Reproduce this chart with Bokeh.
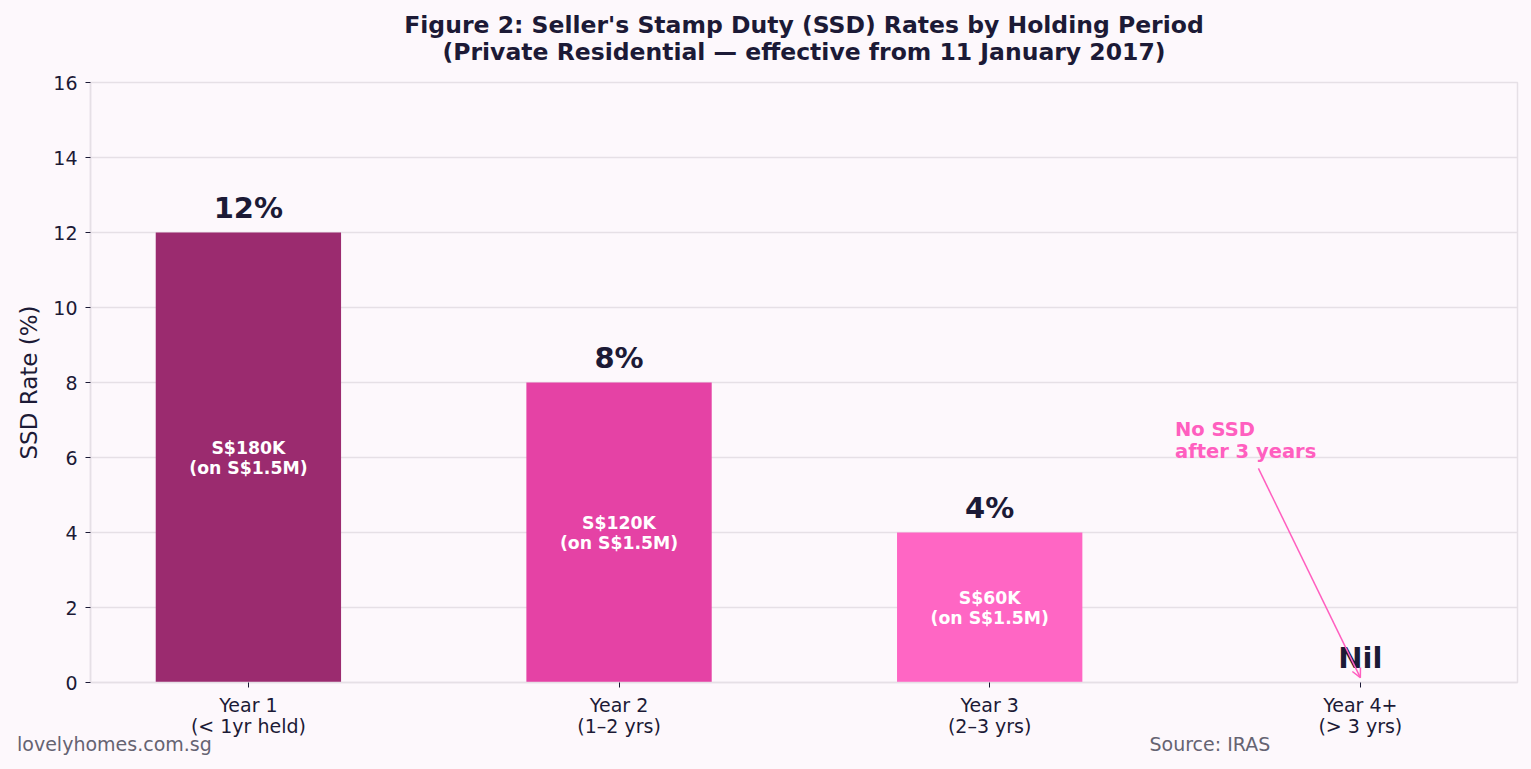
from bokeh.plotting import figure
from bokeh.models import (ColumnDataSource, Range1d, FixedTicker, Label, Arrow,
                          OpenHead, Title, LinearAxis)
from bokeh.core.properties import value
from bokeh.embed import file_html
from bokeh.resources import INLINE

# ---- data ----
categories = ["Year 1\n(< 1yr held)", "Year 2\n(1\u20132 yrs)", "Year 3\n(2\u20133 yrs)", "Year 4+\n(> 3 yrs)"]
rates = [12, 8, 4, 0]
rate_labels = ["12%", "8%", "4%", "Nil"]
duty_labels = ["S$180K\n(on S$1.5M)", "S$120K\n(on S$1.5M)", "S$60K\n(on S$1.5M)", ""]
bar_colors = ["#9B2B6F", "#E542A5", "#FF66C4", "#FF66C4"]
y_ticks = [0, 2, 4, 6, 8, 10, 12, 14, 16]

title_1 = "Figure 2: Seller's Stamp Duty (SSD) Rates by Holding Period"
title_2 = "(Private Residential \u2014 effective from 11 January 2017)"
note_text = "No SSD\nafter 3 years"
note_xy = (2.5, 6.45)
arrow_from = (2.725, 5.71)
arrow_to = (3.0, 0.13)
footer_texts = ["lovelyhomes.com.sg", "Source: IRAS"]
footer_pos = [-0.3615, 2.594]

BG = "#FDF8FC"
DARK = "#1C1A36"
GRID = "#E6E0E6"
PINK = "#FF5FBF"
FONT = "DejaVu Sans"

xpos = list(range(len(categories)))
src = ColumnDataSource(dict(
    x=xpos, top=rates, color=bar_colors,
    mid=[r / 2 for r in rates], duty=duty_labels,
    lab_y=[r + 0.65 for r in rates], lab=rate_labels,
))

p = figure(width=1523, height=761, output_backend="svg", toolbar_location=None,
           x_range=Range1d(-0.426, 3.424), y_range=Range1d(0, 16),
           min_border_left=90, min_border_right=6, min_border_top=82,
           min_border_bottom=79)
p.background_fill_color = BG
p.border_fill_color = BG
p.outline_line_color = GRID
p.outline_line_width = 1.5

p.vbar(x="x", top="top", bottom=0, width=0.5, fill_color="color",
       line_color=None, source=src)

p.text(x="x", y="mid", text="duty", source=src, text_color="white",
       text_font=value(FONT), text_font_style="bold", text_font_size="17.3px",
       text_align="center", text_baseline="middle", text_line_height=1.0)
p.text(x="x", y="lab_y", text="lab", source=src, text_color=DARK,
       text_font=value(FONT), text_font_style="bold", text_font_size="29px",
       text_align="center", text_baseline="middle")

# annotation
p.add_layout(Arrow(end=OpenHead(size=9, line_color=PINK, line_width=1.5),
                   x_start=arrow_from[0], y_start=arrow_from[1],
                   x_end=arrow_to[0], y_end=arrow_to[1],
                   line_color=PINK, line_width=1.5))
p.add_layout(Label(x=note_xy[0], y=note_xy[1], text=note_text,
                   text_color=PINK, text_font=FONT, text_font_style="bold",
                   text_font_size="19.5px", text_align="left",
                   text_baseline="middle", text_line_height=0.97))

# axes
p.xaxis.ticker = FixedTicker(ticks=xpos)
p.xaxis.major_label_overrides = {i: c for i, c in enumerate(categories)}
p.yaxis.ticker = FixedTicker(ticks=y_ticks)
for ax in (p.xaxis[0], p.yaxis[0]):
    ax.axis_line_color = GRID
    ax.axis_line_width = 1.5
    ax.major_tick_line_color = DARK
    ax.major_tick_in = 0
    ax.major_tick_out = 5
    ax.minor_tick_line_color = None
    ax.major_label_text_font = FONT
    ax.major_label_text_font_size = "19px"
    ax.major_label_text_color = DARK
    ax.major_label_standoff = 8
p.xaxis.major_label_text_line_height = 0.97
p.xaxis.major_label_standoff = 6
p.yaxis.axis_label = "SSD Rate (%)"
p.yaxis.axis_label_text_font = FONT
p.yaxis.axis_label_text_font_size = "23px"
p.yaxis.axis_label_text_font_style = "normal"
p.yaxis.axis_label_text_color = DARK
p.yaxis.axis_label_standoff = 8

# footer carried by a tickless axis below the category axis
foot = LinearAxis(ticker=FixedTicker(ticks=footer_pos),
                  major_label_overrides={pos: t for pos, t in zip(footer_pos, footer_texts)})
foot.axis_line_color = None
foot.major_tick_line_color = None
foot.minor_tick_line_color = None
foot.major_tick_in = 0
foot.major_tick_out = 0
foot.major_label_standoff = -7
foot.major_label_text_font = FONT
foot.major_label_text_font_size = "19px"
foot.major_label_text_color = "#656372"
p.add_layout(foot, "below")

p.xgrid.grid_line_color = None
p.ygrid.grid_line_color = GRID
p.ygrid.grid_line_width = 1.5

# titles (added inner line first)
p.add_layout(Title(text=title_2, align="center", text_font=FONT,
                   text_font_style="bold", text_font_size="23.5px",
                   text_color=DARK, standoff=34), "above")
p.add_layout(Title(text=title_1, align="center", text_font=FONT,
                   text_font_style="bold", text_font_size="23.5px",
                   text_color=DARK, standoff=-40), "above")

html = file_html(p, INLINE)
css = "<style>html,body{background-color:%s;}</style>" % BG
html = html.replace("</head>", css + "</head>", 1)
open("out.html", "w").write(html)
